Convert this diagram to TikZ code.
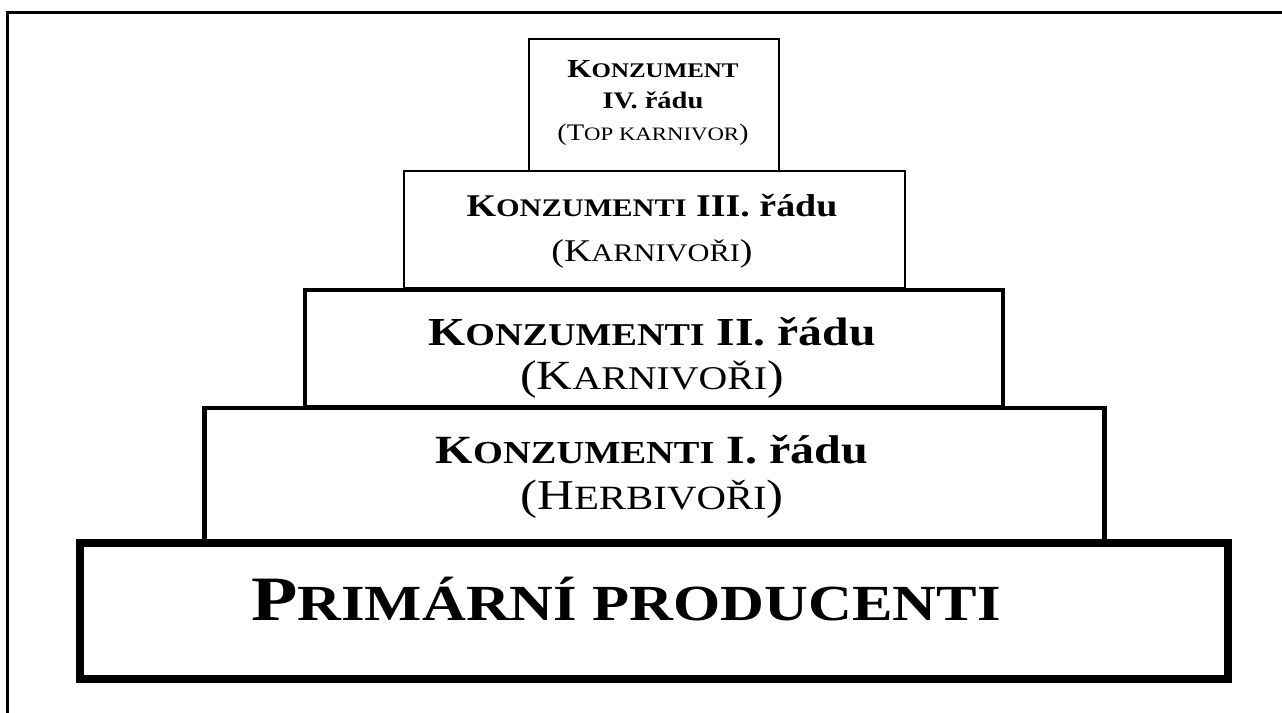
\documentclass[tikz,border=0pt]{standalone}
\usepackage{fontspec}
\setmainfont{Liberation Serif}[FakeStretch=1.2]
\usetikzlibrary{positioning}
\makeatletter
\newcommand{\pcaps}[1]{{\fontsize{\fpeval{0.8*\f@size}}{0}\selectfont #1}}
\makeatother
\tikzset{
  tier/.style={draw, inner sep=0pt, line join=miter},
  tiertext/.style={align=center, inner sep=0pt}
}

\begin{document}
\begin{tikzpicture}[x=0.02cm, y=-0.02cm]
\useasboundingbox (0,0) rectangle (1282,713);
% page frame (only top and left edge show)
\draw[line width=1.3pt] (7.5,713) -- (7.5,12.5) -- (1282,12.5);

% boxes, top to bottom
\node[tier, line width=0.85pt, minimum width=5.0cm, minimum height=2.64cm] (ivbox) at (654,105) {};
\node[tier, line width=1.4pt, minimum width=10.02cm, minimum height=2.34cm] (iiibox) at (654.5,229.5) {};
\node[tier, line width=2.2pt, minimum width=13.97cm, minimum height=2.34cm] (iibox) at (653.75,348.5) {};
\node[tier, line width=2.8pt, minimum width=18.01cm, minimum height=2.7cm] (ibox) at (654.75,475.5) {};
\node[tier, line width=4.5pt, minimum width=22.96cm, minimum height=2.72cm] (base) at (654,611) {};

% labels
\node[tiertext, font=\fontsize{13.5}{18}\selectfont] (ivtext) at (653,103)
  {{\fontsize{14.8}{18}\selectfont\bfseries K\pcaps{ONZUMENT}}\\{\bfseries IV. řádu}\\(T\pcaps{OP KARNIVOR})};
\node[tiertext, font=\fontsize{18}{25.5}\selectfont] (iiitext) at (652,231)
  {{\bfseries K\pcaps{ONZUMENTI} III. řádu}\\(K\pcaps{ARNIVOŘI})};
\node[tiertext, font=\fontsize{22.6}{25.5}\selectfont] (iitext) at (652,358)
  {{\bfseries K\pcaps{ONZUMENTI} II. řádu}\\{\fontsize{23.6}{25.5}\selectfont(K\pcaps{ARNIVOŘI})}};
\node[tiertext, font=\fontsize{22.8}{26.6}\selectfont] (itext) at (652,477)
  {{\bfseries K\pcaps{ONZUMENTI} I. řádu}\\{\fontsize{24.2}{26.6}\selectfont(H\pcaps{ERBIVOŘI})}};
\node[tiertext, font=\fontsize{36}{40}\selectfont\bfseries] (basetext) at (626,599)
  {P\pcaps{RIMÁRNÍ PRODUCENTI}};
\end{tikzpicture}
\end{document}
